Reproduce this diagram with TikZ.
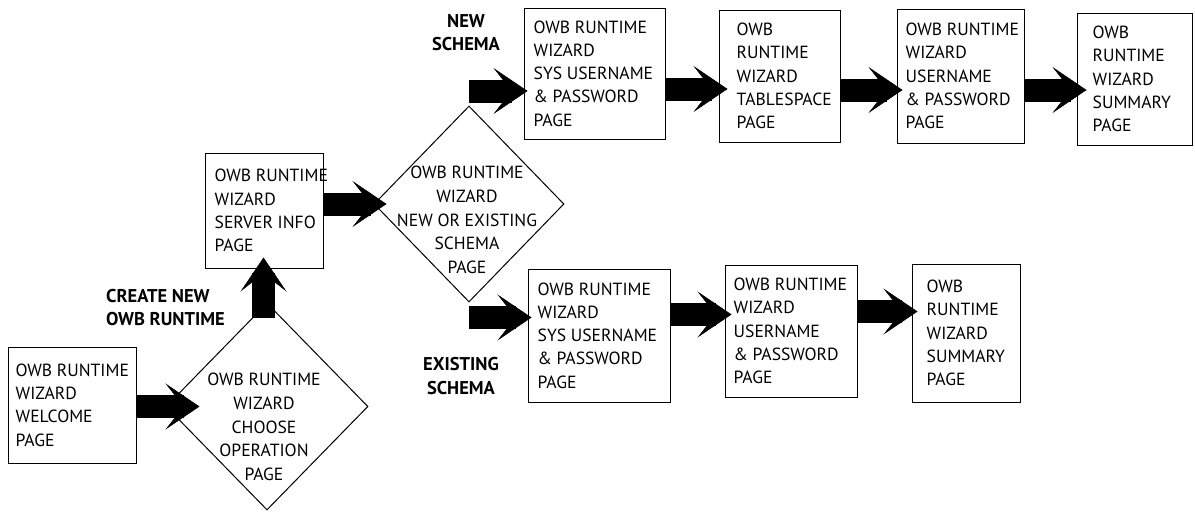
\documentclass[tikz,border=0pt]{standalone}
\usepackage{fontspec}
\setmainfont{PT Sans}
\usetikzlibrary{arrows.meta,shapes.geometric}
\tikzset{
  box/.style={draw, line width=1pt, rectangle, inner sep=0pt},
  btext/.style={align=left, inner sep=0pt, anchor=west, font=\fontsize{17.6}{23.3}\selectfont},
  dshape/.style={draw, line width=1pt, diamond, inner sep=0pt},
  dtext/.style={align=center, inner sep=0pt, font=\fontsize{17.6}{23.8}\selectfont},
  lbl/.style={inner sep=0pt, font=\fontsize{18.5}{23.3}\selectfont\bfseries},
  fat/.style={line width=23pt, -{Stealth[length=34pt, width=46pt, inset=18pt, line width=0.5pt]}}
}
\begin{document}
\begin{tikzpicture}[x=1pt,y=-1pt]
\useasboundingbox (0,0) rectangle (1195,514);
% boxes
\node[box, minimum width=128pt, minimum height=116pt] (welcome) at (72,405) {};
\node[btext] (welcomet) at ([xshift=8pt]welcome.west) {OWB RUNTIME\\WIZARD\\WELCOME\\PAGE};
\node[box, minimum width=118pt, minimum height=115pt] (server) at (264,210.5) {};
\node[btext] (servert) at ([xshift=10pt]server.west) {OWB RUNTIME\\WIZARD\\SERVER INFO\\PAGE};
\node[box, minimum width=141pt, minimum height=131pt] (nsys) at (594.5,73.5) {};
\node[btext] (nsyst) at ([xshift=10pt]nsys.west) {OWB RUNTIME\\WIZARD\\SYS USERNAME\\\& PASSWORD\\PAGE};
\node[box, minimum width=121pt, minimum height=132pt] (ntab) at (779.5,76) {};
\node[btext] (ntabt) at ([xshift=18pt]ntab.west) {OWB\\RUNTIME\\WIZARD\\TABLESPACE\\PAGE};
\node[box, minimum width=127pt, minimum height=134pt] (nuser) at (960.5,76) {};
\node[btext] (nusert) at ([xshift=9pt]nuser.west) {OWB RUNTIME\\WIZARD\\USERNAME\\\& PASSWORD\\PAGE};
\node[box, minimum width=115pt, minimum height=132pt] (nsum) at (1134.5,79) {};
\node[btext] (nsumt) at ([xshift=16pt]nsum.west) {OWB\\RUNTIME\\WIZARD\\SUMMARY\\PAGE};
\node[box, minimum width=142pt, minimum height=133pt] (esys) at (599,335.5) {};
\node[btext] (esyst) at ([xshift=10pt]esys.west) {OWB RUNTIME\\WIZARD\\SYS USERNAME\\\& PASSWORD\\PAGE};
\node[box, minimum width=132pt, minimum height=132pt] (euser) at (791,331) {};
\node[btext] (eusert) at ([xshift=9pt]euser.west) {OWB RUNTIME\\WIZARD\\USERNAME\\\& PASSWORD\\PAGE};
\node[box, minimum width=108pt, minimum height=138pt] (esum) at (966,333) {};
\node[btext] (esumt) at ([xshift=15pt]esum.west) {OWB\\RUNTIME\\WIZARD\\SUMMARY\\PAGE};
% diamonds
\node[dshape, minimum width=202pt, minimum height=207pt] (d1) at (267,406.5) {};
\node[dtext] (d1t) at (264,427) {OWB RUNTIME\\WIZARD\\CHOOSE\\OPERATION\\PAGE};
\node[dshape, minimum width=190pt, minimum height=196pt] (d2) at (469,204) {};
\node[dtext] (d2t) at (467,220) {OWB RUNTIME\\WIZARD\\NEW OR EXISTING\\SCHEMA\\PAGE};
% labels
\node[lbl, align=left, anchor=west] (lcreate) at (106,307.5) {CREATE NEW\\OWB RUNTIME};
\node[lbl, align=center] (lnew) at (466,32.5) {NEW\\SCHEMA};
\node[lbl, align=center] (lexist) at (461,376) {EXISTING\\SCHEMA};
% arrows
\path ([yshift=-1.5pt]welcome.east) coordinate (s1) (s1 -| d1.west) coordinate (e1);
\draw[fat] (s1) -- ([xshift=34pt]e1);
\draw[fat] ([xshift=-3.5pt,yshift=-15pt]d1.north) -- ([xshift=-0.5pt,yshift=11pt]server.south);
\path (server.east |- d2.west) coordinate (s3);
\draw[fat] (s3) -- ([xshift=13pt]d2.west);
\path ([yshift=14.5pt]d2.north) coordinate (s4) (s4 -| nsys.west) coordinate (e4);
\draw[fat] (s4) -- ([xshift=4pt]e4);
\path ([yshift=-15.5pt]nsys.east) coordinate (s5) (s5 -| ntab.west) coordinate (e5);
\draw[fat] (s5) -- ([xshift=9pt]e5);
\path ([yshift=-14pt]ntab.east) coordinate (s6) (s6 -| nuser.west) coordinate (e6);
\draw[fat] (s6) -- ([xshift=6pt]e6);
\path ([yshift=-14pt]nuser.east) coordinate (s7) (s7 -| nsum.west) coordinate (e7);
\draw[fat] (s7) -- ([xshift=10pt]e7);
\path ([yshift=-15pt]d2.south) coordinate (s8) (s8 -| esys.west) coordinate (e8);
\draw[fat] (s8) -- ([xshift=4pt]e8);
\path ([yshift=21pt]esys.east) coordinate (s9) (s9 -| euser.west) coordinate (e9);
\draw[fat] (s9) -- ([xshift=7pt]e9);
\path ([yshift=19.5pt]euser.east) coordinate (s10) (s10 -| esum.west) coordinate (e10);
\draw[fat] (s10) -- ([xshift=6pt]e10);
\end{tikzpicture}
\end{document}
